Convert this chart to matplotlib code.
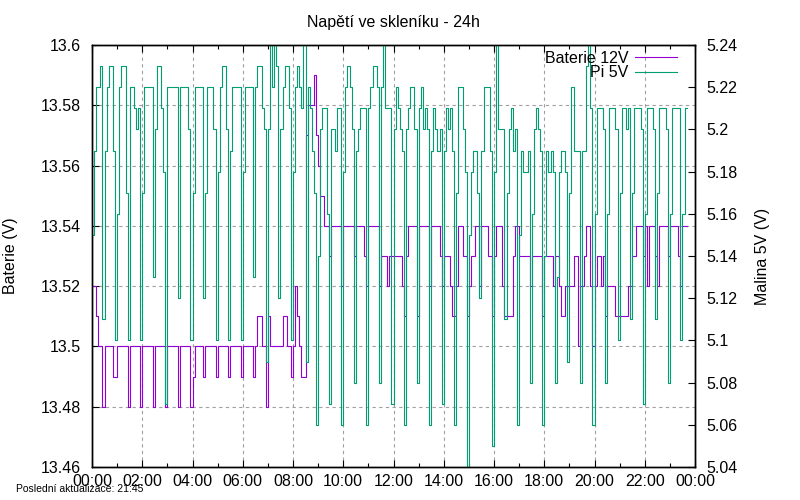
import numpy as np
import matplotlib
matplotlib.use("Agg")
import matplotlib.pyplot as plt

plt.rcParams['font.family'] = ['Liberation Sans', 'DejaVu Sans']

# one sample every 5 minutes, 00:00 .. 23:40
minutes = np.arange(0, 1425, 5)

# Baterie 12V (left axis), one row = one hour
baterie = [
    13.52, 13.52, 13.51, 13.50, 13.50, 13.48, 13.50, 13.50, 13.50, 13.50, 13.49, 13.49,
    13.50, 13.50, 13.50, 13.50, 13.50, 13.48, 13.50, 13.50, 13.50, 13.50, 13.50, 13.48,
    13.50, 13.50, 13.50, 13.50, 13.50, 13.48, 13.50, 13.50, 13.50, 13.50, 13.50, 13.48,
    13.50, 13.50, 13.50, 13.50, 13.50, 13.48, 13.50, 13.50, 13.50, 13.50, 13.50, 13.48,
    13.49, 13.50, 13.50, 13.50, 13.50, 13.49, 13.50, 13.50, 13.50, 13.50, 13.50, 13.49,
    13.50, 13.50, 13.50, 13.50, 13.50, 13.49, 13.50, 13.50, 13.50, 13.50, 13.50, 13.49,
    13.50, 13.50, 13.50, 13.50, 13.50, 13.49, 13.50, 13.51, 13.51, 13.50, 13.50, 13.48,
    13.51, 13.50, 13.50, 13.50, 13.50, 13.50, 13.50, 13.51, 13.51, 13.50, 13.50, 13.49,
    13.50, 13.52, 13.51, 13.50, 13.49, 13.49, 13.57, 13.58, 13.58, 13.58, 13.59, 13.57,
    13.56, 13.55, 13.55, 13.54, 13.54, 13.53, 13.54, 13.54, 13.54, 13.54, 13.54, 13.52,
    13.54, 13.54, 13.54, 13.54, 13.54, 13.53, 13.54, 13.54, 13.54, 13.54, 13.53, 13.52,
    13.54, 13.54, 13.54, 13.54, 13.54, 13.52, 13.53, 13.53, 13.53, 13.52, 13.53, 13.53,
    13.53, 13.53, 13.53, 13.53, 13.52, 13.51, 13.53, 13.54, 13.54, 13.54, 13.54, 13.51,
    13.54, 13.54, 13.54, 13.54, 13.54, 13.52, 13.54, 13.54, 13.54, 13.54, 13.53, 13.52,
    13.53, 13.53, 13.53, 13.52, 13.51, 13.51, 13.52, 13.54, 13.54, 13.53, 13.53, 13.51,
    13.52, 13.53, 13.53, 13.54, 13.54, 13.52, 13.54, 13.54, 13.54, 13.53, 13.53, 13.51,
    13.53, 13.54, 13.54, 13.54, 13.52, 13.51, 13.51, 13.51, 13.51, 13.53, 13.54, 13.54,
    13.53, 13.53, 13.53, 13.53, 13.53, 13.52, 13.53, 13.53, 13.53, 13.53, 13.53, 13.51,
    13.53, 13.53, 13.53, 13.53, 13.52, 13.53, 13.53, 13.52, 13.51, 13.51, 13.52, 13.52,
    13.52, 13.52, 13.53, 13.53, 13.50, 13.52, 13.52, 13.53, 13.54, 13.54, 13.52, 13.50,
    13.52, 13.53, 13.53, 13.52, 13.53, 13.51, 13.52, 13.52, 13.52, 13.52, 13.51, 13.51,
    13.51, 13.51, 13.51, 13.51, 13.52, 13.52, 13.53, 13.53, 13.54, 13.54, 13.54, 13.53,
    13.54, 13.52, 13.54, 13.54, 13.54, 13.53, 13.52, 13.54, 13.54, 13.54, 13.54, 13.53,
    13.54, 13.54, 13.54, 13.54, 13.53, 13.52, 13.54, 13.54, 13.54,
]

# Pi 5V (right axis)
pi5v = [
    5.15, 5.19, 5.22, 5.22, 5.23, 5.11, 5.19, 5.22, 5.23, 5.23, 5.19, 5.10,
    5.16, 5.22, 5.23, 5.23, 5.17, 5.10, 5.22, 5.22, 5.21, 5.20, 5.21, 5.10,
    5.17, 5.22, 5.22, 5.22, 5.22, 5.13, 5.20, 5.23, 5.23, 5.21, 5.18, 5.07,
    5.22, 5.22, 5.22, 5.22, 5.22, 5.12, 5.22, 5.22, 5.22, 5.22, 5.20, 5.10,
    5.17, 5.22, 5.22, 5.22, 5.22, 5.12, 5.17, 5.22, 5.22, 5.22, 5.20, 5.10,
    5.18, 5.22, 5.23, 5.23, 5.20, 5.10, 5.19, 5.22, 5.22, 5.22, 5.22, 5.10,
    5.18, 5.22, 5.22, 5.22, 5.22, 5.13, 5.22, 5.23, 5.23, 5.21, 5.20, 5.09,
    5.20, 5.24, 5.22, 5.24, 5.23, 5.12, 5.20, 5.22, 5.23, 5.23, 5.21, 5.10,
    5.18, 5.22, 5.23, 5.22, 5.21, 5.24, 5.09, 5.22, 5.21, 5.19, 5.17, 5.06,
    5.14, 5.20, 5.21, 5.21, 5.16, 5.07, 5.20, 5.20, 5.19, 5.21, 5.21, 5.06,
    5.18, 5.22, 5.23, 5.22, 5.20, 5.08, 5.19, 5.20, 5.21, 5.21, 5.21, 5.06,
    5.21, 5.22, 5.23, 5.23, 5.22, 5.08, 5.22, 5.24, 5.21, 5.21, 5.21, 5.07,
    5.20, 5.22, 5.21, 5.20, 5.19, 5.06, 5.20, 5.21, 5.22, 5.22, 5.20, 5.08,
    5.21, 5.22, 5.20, 5.21, 5.20, 5.06, 5.19, 5.21, 5.20, 5.19, 5.20, 5.07,
    5.19, 5.21, 5.20, 5.21, 5.19, 5.06, 5.17, 5.22, 5.22, 5.20, 5.18, 5.04,
    5.15, 5.18, 5.19, 5.19, 5.17, 5.12, 5.19, 5.22, 5.22, 5.22, 5.19, 5.05,
    5.18, 5.24, 5.20, 5.20, 5.20, 5.11, 5.17, 5.20, 5.21, 5.19, 5.20, 5.06,
    5.15, 5.19, 5.18, 5.18, 5.19, 5.08, 5.16, 5.20, 5.21, 5.20, 5.19, 5.06,
    5.14, 5.19, 5.18, 5.19, 5.18, 5.08, 5.13, 5.18, 5.19, 5.19, 5.18, 5.09,
    5.17, 5.22, 5.19, 5.19, 5.19, 5.08, 5.19, 5.19, 5.23, 5.24, 5.21, 5.06,
    5.16, 5.21, 5.21, 5.21, 5.20, 5.08, 5.16, 5.21, 5.21, 5.21, 5.20, 5.10,
    5.17, 5.21, 5.21, 5.20, 5.21, 5.11, 5.17, 5.21, 5.21, 5.21, 5.20, 5.07,
    5.16, 5.21, 5.21, 5.21, 5.20, 5.11, 5.17, 5.21, 5.21, 5.21, 5.20, 5.08,
    5.16, 5.21, 5.21, 5.21, 5.21, 5.10, 5.16, 5.21, 5.21,
]

x_labels = ["00:00", "02:00", "04:00", "06:00", "08:00", "10:00", "12:00",
            "14:00", "16:00", "18:00", "20:00", "22:00", "00:00"]
y1_ticks = [13.46, 13.48, 13.50, 13.52, 13.54, 13.56, 13.58, 13.60]
y2_ticks = [5.04, 5.06, 5.08, 5.10, 5.12, 5.14, 5.16, 5.18, 5.20, 5.22, 5.24]

hours = minutes / 60.0
fs = 11.5

fig = plt.figure(figsize=(8, 5), dpi=100)
ax = fig.add_axes([92 / 800, 33 / 500, 603 / 800, 422 / 500])
ax2 = ax.twinx()

l1, = ax.plot(hours, baterie, color='#9400d3', lw=0.8, drawstyle='steps-post', label='Baterie 12V')
l2, = ax2.plot(hours, pi5v, color='#009e73', lw=0.8, drawstyle='steps-post', label='Pi 5V')

ax.set_xlim(0, 24)
ax.set_ylim(13.46, 13.60)
ax2.set_ylim(5.04, 5.24)

ax.set_xticks([2 * i for i in range(len(x_labels))])
ax.set_xticklabels(x_labels)
ax.set_xticks([2 * i + 1 for i in range(len(x_labels) - 1)], minor=True)
ax.set_yticks(y1_ticks)
ax.set_yticklabels(['%g' % v for v in y1_ticks])
ax2.set_yticks(y2_ticks)
ax2.set_yticklabels(['%g' % v for v in y2_ticks])

ax.tick_params(axis='both', which='major', direction='in', length=5, width=0.8,
               labelsize=fs, pad=8)
ax.tick_params(axis='x', which='both', top=True, direction='in')
ax.tick_params(axis='x', which='minor', length=3, width=0.8)
ax.tick_params(axis='x', which='major', pad=5)
ax2.tick_params(axis='y', direction='in', length=5, width=0.8, labelsize=fs, pad=8)

ax.grid(True, which='major', color='#a0a0a0', lw=0.8, linestyle=(0, (3, 3)))
for a in (ax, ax2):
    for s in a.spines.values():
        s.set_color('black')
        s.set_linewidth(1.0)

fig.text(393.5 / 800, 1 - 22 / 500, 'Napětí ve skleníku - 24h', ha='center', va='center', fontsize=fs)
fig.text(11 / 800, 1 - 256 / 500, 'Baterie (V)', rotation=90, ha='center', va='center', fontsize=fs)
fig.text(762 / 800, 1 - 256 / 500, 'Malina 5V (V)', rotation=90, ha='center', va='center', fontsize=fs)
fig.text(16 / 800, 1 - 489 / 500, 'Poslední aktualizace: 21:45', ha='left', va='center', fontsize=7.5)

ax2.legend(handles=[l1, l2], loc='upper right', bbox_to_anchor=(677 / 800, 1 - 51 / 500),
           bbox_transform=fig.transFigure, frameon=False, markerfirst=False,
           labelspacing=-0.05, handlelength=2.6, handletextpad=0.45,
           borderpad=0, borderaxespad=0, fontsize=fs)

fig.savefig('out.png', dpi=100)
